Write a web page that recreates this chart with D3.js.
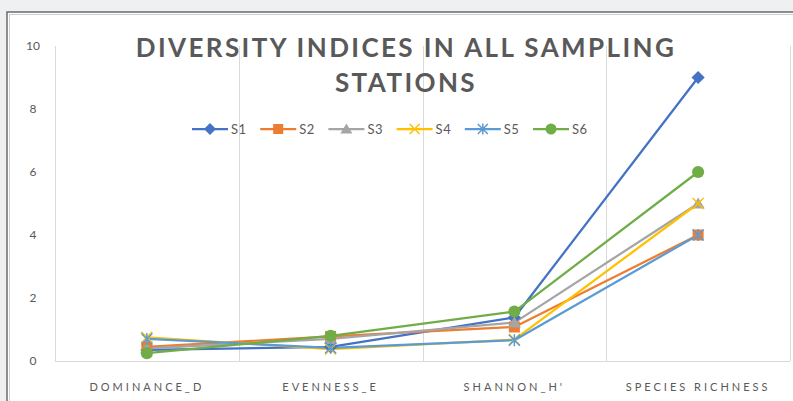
<!DOCTYPE html>
<html>
<head>
<meta charset="utf-8">
<script src="https://cdn.jsdelivr.net/npm/d3@7"></script>
<style>
  body { margin: 0; background: #eff0f2; }
  svg { display: block; }
</style>
</head>
<body>
<div id="chart"></div>
<script>
// Chart data
const categories = ["DOMINANCE_D", "EVENNESS_E", "SHANNON_H'", "SPECIES RICHNESS"];
const seriesNames = ["S1", "S2", "S3", "S4", "S5", "S6"];
const s1 = [0.35, 0.45, 1.38, 9];
const s2 = [0.45, 0.78, 1.08, 4];
const s3 = [0.4, 0.7, 1.22, 5];
const s4 = [0.75, 0.38, 0.68, 5];
const s5 = [0.7, 0.42, 0.66, 4];
const s6 = [0.25, 0.8, 1.57, 6];
const yTicks = [0, 2, 4, 6, 8, 10];

const seriesValues = [s1, s2, s3, s4, s5, s6];
const colors = ["#4472c4", "#ed7d31", "#a5a5a5", "#ffc000", "#5b9bd5", "#70ad47"];
const markers = ["diamond", "square", "triangle", "x", "star", "circle"];

const W = 793, H = 401;
const margin = { top: 46, right: 3, bottom: 40, left: 55 },
    width = W - margin.left - margin.right,
    height = H - margin.top - margin.bottom;

const root = d3.select("#chart").append("svg")
    .attr("width", W)
    .attr("height", H);

// chart frame (white area with double border)
root.append("rect")
    .attr("x", 7).attr("y", 12)
    .attr("width", W + 10).attr("height", H)
    .attr("fill", "#ffffff")
    .attr("stroke", "#6b6b6b")
    .attr("stroke-width", 1.5);
root.append("rect")
    .attr("x", 9.5).attr("y", 14.5)
    .attr("width", W + 10).attr("height", H)
    .attr("fill", "none")
    .attr("stroke", "#cfcfcf")
    .attr("stroke-width", 1);

const svg = root.append("g")
    .attr("transform", `translate(${margin.left}, ${margin.top})`);

// scales
const xScale = d3.scaleBand().domain(categories).range([0, width]);
const yScale = d3.scaleLinear().domain([0, 10]).range([height, 0]);
const cx = d => xScale(d) + xScale.bandwidth() / 2;

// vertical gridlines at category boundaries
const bounds = categories.map(c => xScale(c)).concat([width]);
svg.selectAll(".vgrid")
    .data(bounds)
    .enter().append("line")
    .attr("class", "vgrid")
    .attr("x1", d => Math.round(d) + 0.5)
    .attr("x2", d => Math.round(d) + 0.5)
    .attr("y1", yScale(10))
    .attr("y2", yScale(0))
    .attr("stroke", "#d9d9d9");

// x axis line
svg.append("line")
    .attr("x1", 0).attr("x2", width)
    .attr("y1", yScale(0) + 0.5).attr("y2", yScale(0) + 0.5)
    .attr("stroke", "#d9d9d9");

// y tick labels
svg.selectAll(".ytick")
    .data(yTicks)
    .enter().append("text")
    .attr("class", "ytick")
    .attr("x", -22)
    .attr("y", d => yScale(d))
    .attr("dy", "0.35em")
    .attr("text-anchor", "middle")
    .style("font-family", "Lato, 'Open Sans', sans-serif")
    .style("font-size", "12px")
    .style("fill", "#595959")
    .text(d => d);

// x category labels
svg.selectAll(".xlabel")
    .data(categories)
    .enter().append("text")
    .attr("class", "xlabel")
    .attr("x", d => cx(d))
    .attr("y", height + 30)
    .attr("text-anchor", "middle")
    .style("font-family", "Lato, 'Open Sans', sans-serif")
    .style("font-size", "11px")
    .style("letter-spacing", "3px")
    .style("fill", "#595959")
    .text(d => d);

// title
const title = root.append("text")
    .attr("x", 406)
    .attr("text-anchor", "middle")
    .style("font-family", "Lato, 'Open Sans', sans-serif")
    .style("font-weight", "bold")
    .style("font-size", "26px")
    .style("letter-spacing", "2.4px")
    .style("fill", "#595959");
title.append("tspan").attr("x", 406).attr("y", 57).text("DIVERSITY INDICES IN ALL SAMPLING");
title.append("tspan").attr("x", 406).attr("y", 92).text("STATIONS");

// marker drawing helper
function drawMarker(g, type, color, size) {
    const s = size;
    if (type === "diamond") {
        g.append("path").attr("d", `M0,${-s * 0.6}L${s * 0.6},0L0,${s * 0.6}L${-s * 0.6},0Z`).attr("fill", color);
    } else if (type === "square") {
        g.append("rect").attr("x", -s / 2).attr("y", -s / 2).attr("width", s).attr("height", s).attr("fill", color);
    } else if (type === "triangle") {
        g.append("path").attr("d", `M0,${-s * 0.55}L${s * 0.6},${s * 0.45}L${-s * 0.6},${s * 0.45}Z`).attr("fill", color);
    } else if (type === "x") {
        const r = s * 0.5;
        g.append("path").attr("d", `M${-r},${-r}L${r},${r}M${-r},${r}L${r},${-r}`)
            .attr("stroke", color).attr("stroke-width", 1.5).attr("fill", "none");
    } else if (type === "star") {
        const r = s * 0.5;
        g.append("path").attr("d", `M${-r},${-r}L${r},${r}M${-r},${r}L${r},${-r}M0,${-r * 1.1}L0,${r * 1.1}`)
            .attr("stroke", color).attr("stroke-width", 1.5).attr("fill", "none");
    } else if (type === "circle") {
        g.append("circle").attr("r", s * 0.55).attr("fill", color);
    }
}

// lines and markers for each series
const line = d3.line()
    .x((d, i) => cx(categories[i]))
    .y(d => yScale(d));

seriesValues.forEach((vals, k) => {
    svg.append("path")
        .datum(vals)
        .attr("fill", "none")
        .attr("stroke", colors[k])
        .attr("stroke-width", 2.25)
        .attr("stroke-linejoin", "round")
        .attr("d", line);
});
seriesValues.forEach((vals, k) => {
    vals.forEach((v, i) => {
        const g = svg.append("g")
            .attr("transform", `translate(${cx(categories[i])}, ${yScale(v)})`);
        drawMarker(g, markers[k], colors[k], 11);
    });
});

// legend
const legend = root.append("g")
    .attr("transform", "translate(192, 129)");
seriesNames.forEach((name, k) => {
    const item = legend.append("g").attr("transform", `translate(${k * 68.2}, 0)`);
    item.append("line")
        .attr("x1", 0).attr("x2", 36)
        .attr("stroke", colors[k])
        .attr("stroke-width", 2.25);
    drawMarker(item.append("g").attr("transform", "translate(18,0)"), markers[k], colors[k], 10);
    item.append("text")
        .attr("x", 39)
        .attr("dy", "0.35em")
        .style("font-family", "Lato, 'Open Sans', sans-serif")
        .style("font-size", "13px")
        .style("letter-spacing", "0.5px")
        .style("fill", "#595959")
        .text(name);
});
</script>
</body>
</html>
